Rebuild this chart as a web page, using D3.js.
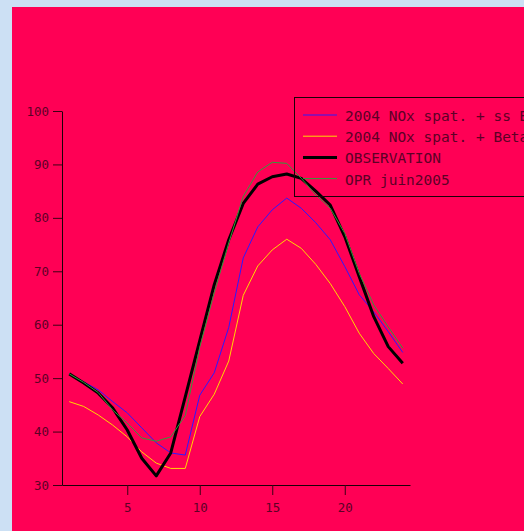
<!DOCTYPE html>
<html>
<head>
<meta charset="utf-8">
<script src="https://cdn.jsdelivr.net/npm/d3@7"></script>
<style>
  body { margin: 0; background: #cce0f4; overflow: hidden; }
  svg { display: block; }
  text { font-family: "DejaVu Sans Mono", monospace; fill: #5c0026; }
</style>
</head>
<body>
<script>
// hours of the day
var hours = d3.range(1, 25);

var obs = [50.8, 49.1, 47.2, 44.4, 40.3, 35.0, 31.7, 36.0, 46.5, 57.0, 67.5, 75.9,
           82.7, 86.3, 87.7, 88.2, 87.4, 85.0, 82.4, 76.5, 69.0, 61.5, 55.9, 52.8];
var opr = [50.8, 49.2, 47.3, 44.0, 41.6, 38.8, 38.2, 39.0, 43.0, 55.8, 66.0, 75.3,
           84.0, 88.6, 90.4, 90.2, 87.4, 84.3, 81.8, 77.1, 69.6, 63.7, 59.6, 55.6];
var ssBeta = [50.8, 49.3, 47.8, 45.6, 43.5, 40.7, 37.9, 36.0, 35.6, 46.8, 51.0, 59.5,
              72.5, 78.3, 81.5, 83.7, 81.8, 79.1, 75.9, 70.9, 65.6, 62.4, 58.7, 54.8];
var beta = [45.6, 44.7, 43.1, 41.2, 39.0, 36.2, 34.1, 33.1, 33.1, 42.8, 47.0, 53.2,
            65.5, 71.0, 74.0, 76.0, 74.3, 71.3, 67.7, 63.4, 58.4, 54.6, 51.8, 48.9];

var xTicks = [5, 10, 15, 20];
var yTicks = [30, 40, 50, 60, 70, 80, 90, 100];

var series = [
  {name: "2004 NOx spat. + ss Beta", values: ssBeta, color: "#2a1aff", width: 1},
  {name: "2004 NOx spat. + Beta", values: beta, color: "#ffd800", width: 1},
  {name: "OBSERVATION", values: obs, color: "#000000", width: 3},
  {name: "OPR juin2005", values: opr, color: "#2e9e3a", width: 1}
];

var W = 524, H = 531;
var svg = d3.select("body").append("svg").attr("width", W).attr("height", H);

svg.append("rect").attr("x", 12).attr("y", 7)
   .attr("width", W - 12).attr("height", H - 7)
   .attr("fill", "#ff0055");

var x = d3.scaleLinear().domain([0.5, 24.5]).range([62, 410]);
var y = d3.scaleLinear().domain([30, 100]).range([485, 111]);

// y axis
var yAxis = svg.append("g").attr("transform", "translate(62,0)")
   .call(d3.axisLeft(y).tickValues(yTicks).tickSize(9).tickPadding(4).tickSizeOuter(0));
yAxis.select(".domain").attr("stroke", "#1a0008");
yAxis.selectAll(".tick line").attr("stroke", "#3a0014");
yAxis.selectAll(".tick text").style("font-size", "12.5px").attr("fill", "#5c0026");

// x axis
var xAxis = svg.append("g").attr("transform", "translate(0,485)")
   .call(d3.axisBottom(x).tickValues(xTicks).tickSize(10).tickPadding(8).tickSizeOuter(0));
xAxis.select(".domain").attr("stroke", "#1a0008");
xAxis.selectAll(".tick line").attr("stroke", "#3a0014");
xAxis.selectAll(".tick text").style("font-size", "12.5px").attr("fill", "#5c0026");

var line = d3.line()
  .x(function(d, i){ return x(hours[i]); })
  .y(function(d){ return y(d); });

series.forEach(function(s){
  svg.append("path")
     .datum(s.values)
     .attr("d", line)
     .attr("fill", "none")
     .attr("stroke", s.color)
     .attr("stroke-width", s.width)
     .attr("stroke-linejoin", "round");
});

// legend
var leg = svg.append("g").attr("transform", "translate(294,97)");
leg.append("rect").attr("x", 0.5).attr("y", 0.5)
   .attr("width", 260).attr("height", 99)
   .attr("fill", "none").attr("stroke", "#1a0008");

series.forEach(function(s, i){
  var ly = 18 + i * 21.2;
  leg.append("line")
     .attr("x1", 9).attr("x2", 43)
     .attr("y1", ly).attr("y2", ly)
     .attr("stroke", s.color).attr("stroke-width", s.width);
  leg.append("text")
     .attr("x", 51).attr("y", ly + 6)
     .style("font-size", "14.5px")
     .text(s.name);
});
</script>
</body>
</html>
